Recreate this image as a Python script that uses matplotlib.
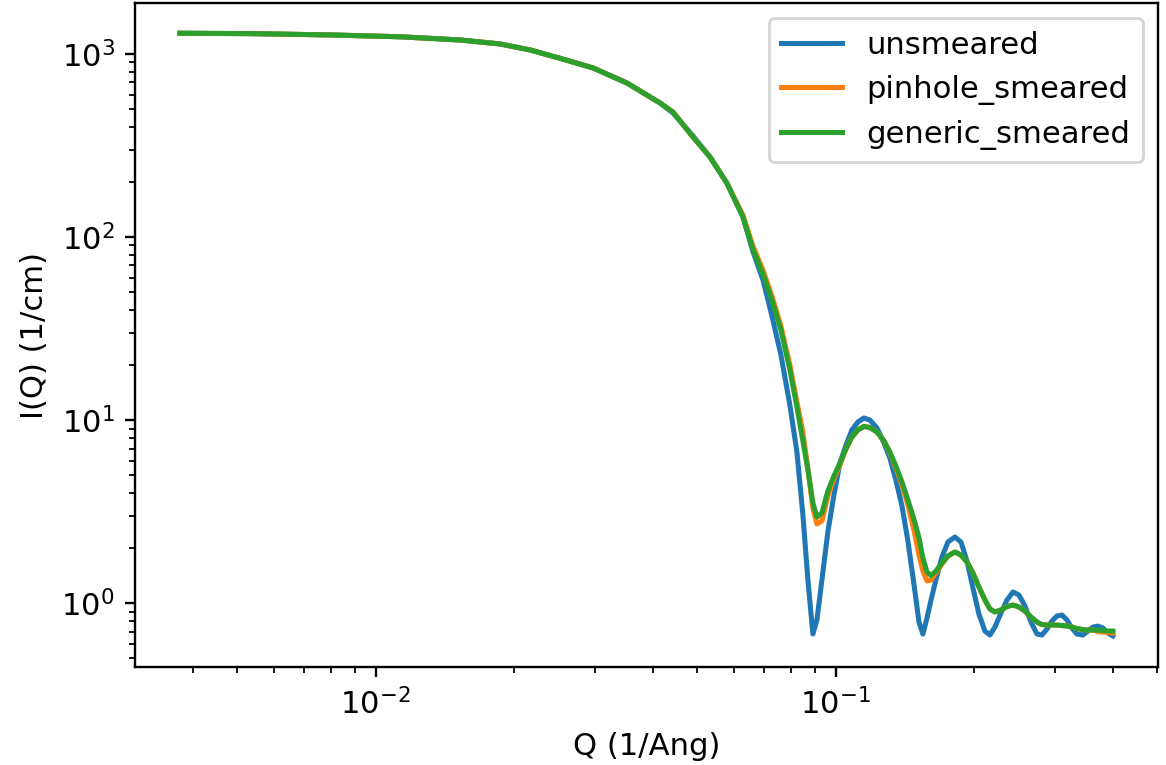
import matplotlib

matplotlib.use("Agg")

import matplotlib.pyplot as plt

plt.rcParams["font.size"] = 10.3

# Q grid (1/Ang)
Q = [
    0.003755, 0.005329, 0.007957, 0.01129, 0.01525, 0.01863, 0.02165, 0.02516, 0.02968, 0.03518,
    0.04151, 0.04430, 0.04895, 0.05330, 0.05803, 0.06288, 0.06610, 0.06950, 0.07270, 0.07605,
    0.07955, 0.08239, 0.08490, 0.08705, 0.08926, 0.09106, 0.09337, 0.09622, 0.09915, 0.1022,
    0.1053, 0.1085, 0.1118, 0.1152, 0.1187, 0.1230, 0.1274, 0.1312, 0.1352, 0.1394,
    0.1436, 0.1480, 0.1518, 0.1548, 0.1580, 0.1612, 0.1652, 0.1703, 0.1755, 0.1817,
    0.1873, 0.1930, 0.1989, 0.2049, 0.2112, 0.2165, 0.2220, 0.2288, 0.2358, 0.2430,
    0.2504, 0.2580, 0.2659, 0.2740, 0.2809, 0.2881, 0.2953, 0.3028, 0.3105, 0.3184,
    0.3264, 0.3347, 0.3449, 0.3536, 0.3626, 0.3718, 0.3812, 0.3908, 0.4007,
]

# I(Q) (1/cm)
UNSMEARED = [
    1297, 1291, 1270, 1241, 1192, 1134, 1052, 947, 839, 694,
    540, 476, 357, 274, 197, 129, 83.5, 58.5, 37.17, 22.76,
    12.06, 6.704, 3.035, 1.340, 0.6797, 0.8106, 1.340, 2.467, 3.889, 5.838,
    7.293, 8.842, 9.776, 10.28, 10.03, 9.066, 7.507, 6.217, 4.714, 3.400,
    2.189, 1.275, 0.7900, 0.6797, 0.8312, 1.042, 1.340, 1.790, 2.162, 2.302,
    2.162, 1.702, 1.212, 0.8740, 0.7054, 0.6712, 0.7420, 0.8852, 1.042, 1.153,
    1.110, 0.9666, 0.7900, 0.6797, 0.6712, 0.7236, 0.8007, 0.8524, 0.8634, 0.8106,
    0.7327, 0.6797, 0.6712, 0.7054, 0.7420, 0.7513, 0.7327, 0.6883, 0.6628,
]

PINHOLE = [
    1297, 1291, 1270, 1241, 1192, 1134, 1052, 947, 839, 694,
    540, 482, 352, 274, 197, 132.0, 89.42, 66.12, 47.69, 32.69,
    20.02, 12.57, 8.623, 5.435, 3.315, 2.711, 2.815, 3.855, 4.774, 5.692,
    6.962, 8.095, 8.842, 9.240, 9.125, 8.623, 7.699, 6.620, 5.483, 4.428,
    3.443, 2.513, 1.836, 1.501, 1.324, 1.340, 1.464, 1.639, 1.813, 1.906,
    1.836, 1.681, 1.464, 1.228, 1.042, 0.9308, 0.8965, 0.9193, 0.9605, 0.9788,
    0.9545, 0.9078, 0.8415, 0.7900, 0.7656, 0.7608, 0.7608, 0.7608, 0.7560, 0.7513,
    0.7420, 0.7280, 0.7189, 0.7144, 0.7144, 0.7015, 0.6965, 0.6921, 0.6883,
]

GENERIC = [
    1297, 1291, 1270, 1241, 1192, 1134, 1052, 947, 839, 694,
    540, 482, 352, 274, 197, 129, 86.1, 62.86, 45.34, 31.09,
    18.80, 11.81, 7.699, 5.347, 3.530, 2.961, 3.113, 4.106, 4.958, 5.838,
    6.962, 8.095, 8.842, 9.240, 9.125, 8.623, 7.699, 6.704, 5.622, 4.597,
    3.666, 2.887, 2.273, 1.768, 1.482, 1.419, 1.501, 1.660, 1.813, 1.906,
    1.836, 1.681, 1.464, 1.228, 1.042, 0.9308, 0.8965, 0.9193, 0.9605, 0.9788,
    0.9545, 0.9078, 0.8415, 0.7900, 0.7656, 0.7608, 0.7608, 0.7608, 0.7560, 0.7513,
    0.7420, 0.7280, 0.7189, 0.7144, 0.7144, 0.7144, 0.7099, 0.7054, 0.7054,
]


def main():
    fig = plt.figure(figsize=(5.449, 3.575), dpi=214)
    ax = fig.add_axes([0.1162, 0.1281, 0.8769, 0.868])

    ax.loglog(Q, UNSMEARED, lw=1.7, label="unsmeared")
    ax.loglog(Q, PINHOLE, lw=1.7, label="pinhole_smeared")
    ax.loglog(Q, GENERIC, lw=1.7, label="generic_smeared")

    ax.set_xlim(0.003006, 0.5023)
    ax.set_ylim(0.449, 1899)
    ax.set_xlabel("Q (1/Ang)")
    ax.set_ylabel("I(Q) (1/cm)")
    ax.legend(loc="upper right")

    fig.savefig("out.png", dpi=214)


if __name__ == "__main__":
    main()
